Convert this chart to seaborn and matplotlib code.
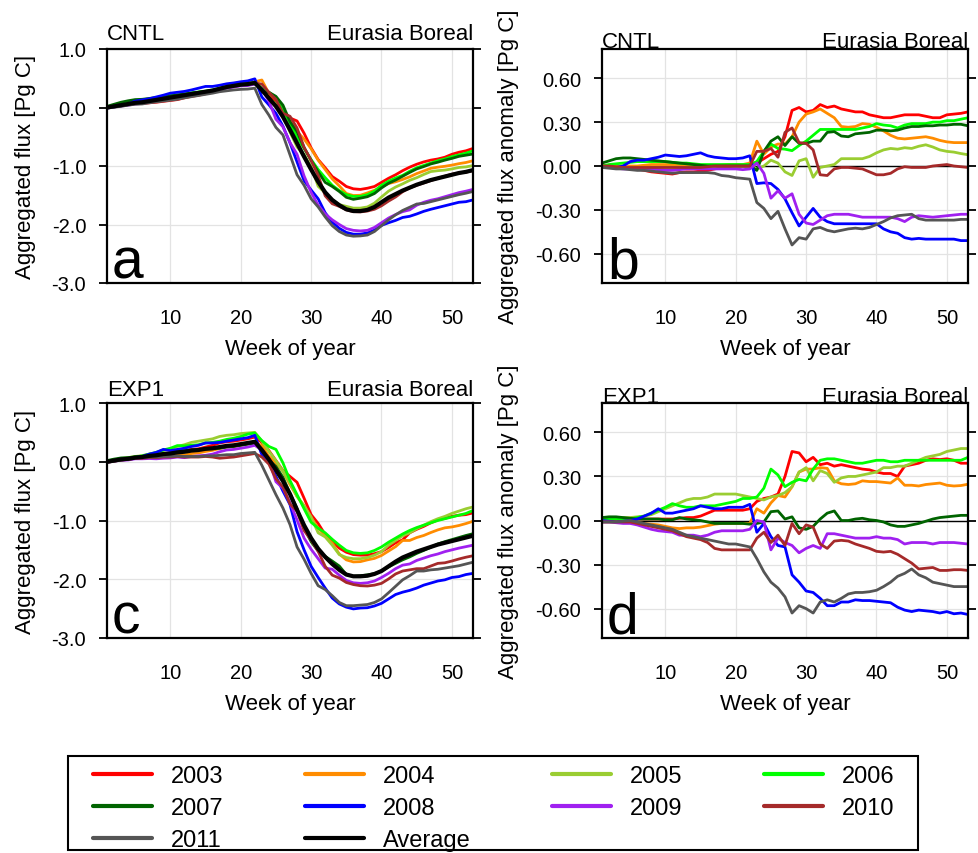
import numpy as np
import pandas as pd
import matplotlib
matplotlib.use("Agg")
import matplotlib.pyplot as plt
from matplotlib.lines import Line2D
from matplotlib.patches import Rectangle
from matplotlib import font_manager
import seaborn as sns

# ---------------- data ----------------
weeks = list(range(1, 54))
years = ["2003", "2004", "2005", "2006", "2007", "2008", "2009", "2010", "2011"]
colors = ["#ff0000", "#ff8c00", "#9acd32", "#00ff00", "#006400",
          "#0000ff", "#a020f0", "#a52a2a", "#555555"]

# CNTL average aggregated flux (black line, panel a)
avg_cntl = [0.00, 0.02, 0.04, 0.06, 0.08, 0.09, 0.11, 0.13, 0.15, 0.17, 0.19, 0.21, 0.23, 0.25,
            0.27, 0.29, 0.32, 0.35, 0.37, 0.39, 0.40, 0.42, 0.30, 0.16, 0.02, -0.16, -0.38, -0.61,
            -0.84, -1.06, -1.27, -1.45, -1.58, -1.67, -1.74, -1.77, -1.77, -1.75, -1.70, -1.62,
            -1.54, -1.48, -1.42, -1.37, -1.32, -1.28, -1.24, -1.21, -1.18, -1.15, -1.12, -1.10, -1.07]

# CNTL anomalies (panel b)
cntl_2003 = [0.00, -0.005, -0.01, -0.01, -0.015, -0.02, -0.03, -0.04, -0.045, -0.05, -0.055, -0.045, -0.04,
             -0.04, -0.035, -0.03, -0.02, -0.01, -0.005, 0.00, 0.00, 0.00, 0.02, 0.05, 0.08, 0.10, 0.20,
             0.38, 0.40, 0.37, 0.38, 0.42, 0.40, 0.41, 0.39, 0.38, 0.37, 0.37, 0.35, 0.34, 0.33, 0.33,
             0.34, 0.35, 0.35, 0.35, 0.34, 0.33, 0.33, 0.35, 0.355, 0.36, 0.37]
cntl_2004 = [0.00, 0.00, 0.00, 0.00, 0.00, 0.00, 0.005, 0.01, 0.01, 0.01, 0.01, 0.01, 0.01, 0.005, 0.00,
             0.00, 0.00, 0.005, 0.01, 0.01, 0.01, 0.02, 0.17, 0.08, 0.13, 0.15, 0.15, 0.20, 0.30, 0.355,
             0.37, 0.39, 0.36, 0.33, 0.27, 0.265, 0.27, 0.29, 0.285, 0.265, 0.24, 0.21, 0.19, 0.185,
             0.19, 0.195, 0.20, 0.19, 0.175, 0.165, 0.16, 0.16, 0.16]
cntl_2005 = [0.00, -0.005, -0.01, -0.01, -0.01, -0.01, -0.01, -0.01, -0.01, -0.01, -0.01, -0.01, -0.01,
             -0.005, 0.00, 0.00, 0.00, 0.00, 0.00, 0.00, 0.005, 0.01, -0.02, 0.00, 0.04, 0.02, -0.04,
             -0.065, 0.035, 0.05, -0.077, -0.01, 0.00, 0.01, 0.05, 0.05, 0.05, 0.05, 0.065, 0.09, 0.11,
             0.12, 0.115, 0.125, 0.12, 0.135, 0.145, 0.13, 0.11, 0.10, 0.095, 0.085, 0.077]
cntl_2006 = [0.00, 0.01, 0.015, 0.02, 0.025, 0.03, 0.03, 0.03, 0.03, 0.03, 0.025, 0.02, 0.02, 0.015, 0.01,
             0.01, 0.01, 0.01, 0.01, 0.01, 0.01, 0.01, 0.03, 0.10, 0.15, 0.12, 0.115, 0.105, 0.14, 0.17,
             0.21, 0.25, 0.25, 0.25, 0.25, 0.25, 0.25, 0.26, 0.27, 0.29, 0.28, 0.275, 0.26, 0.28, 0.29,
             0.29, 0.29, 0.30, 0.30, 0.31, 0.31, 0.32, 0.33]
cntl_2007 = [0.02, 0.035, 0.05, 0.055, 0.055, 0.05, 0.045, 0.04, 0.035, 0.03, 0.025, 0.02, 0.015, 0.01,
             0.005, 0.00, 0.00, 0.00, 0.00, 0.00, 0.00, 0.00, -0.03, 0.10, 0.17, 0.20, 0.14, 0.20, 0.155,
             0.155, 0.17, 0.17, 0.23, 0.235, 0.205, 0.20, 0.22, 0.225, 0.23, 0.245, 0.245, 0.24, 0.245,
             0.26, 0.27, 0.27, 0.275, 0.275, 0.28, 0.28, 0.285, 0.285, 0.275]
cntl_2008 = [-0.01, -0.01, -0.01, 0.00, 0.03, 0.04, 0.04, 0.05, 0.06, 0.075, 0.07, 0.065, 0.07, 0.08,
             0.09, 0.07, 0.06, 0.055, 0.05, 0.05, 0.055, 0.07, -0.12, -0.115, -0.12, -0.16, -0.225,
             -0.32, -0.41, -0.35, -0.29, -0.35, -0.38, -0.395, -0.395, -0.395, -0.395, -0.395, -0.395,
             -0.395, -0.43, -0.45, -0.46, -0.49, -0.50, -0.495, -0.50, -0.50, -0.50, -0.50, -0.50,
             -0.51, -0.51]
cntl_2009 = [-0.01, -0.01, -0.015, -0.02, -0.02, -0.02, -0.02, -0.02, -0.025, -0.03, -0.03, -0.025, -0.02,
             -0.02, -0.02, -0.02, -0.02, -0.02, -0.02, -0.02, -0.025, -0.02, 0.02, -0.05, -0.22, -0.17,
             -0.22, -0.19, -0.33, -0.39, -0.40, -0.37, -0.34, -0.33, -0.33, -0.33, -0.34, -0.35, -0.35,
             -0.35, -0.35, -0.35, -0.36, -0.38, -0.35, -0.34, -0.345, -0.35, -0.345, -0.34, -0.335,
             -0.33, -0.33]
cntl_2010 = [0.00, 0.00, -0.005, -0.01, -0.01, -0.01, -0.01, -0.01, -0.01, -0.01, -0.01, -0.01, -0.01,
             -0.01, -0.01, -0.005, 0.00, 0.00, 0.00, 0.00, 0.00, 0.00, 0.10, 0.10, 0.12, 0.06, 0.23,
             0.26, 0.16, 0.155, 0.11, -0.06, -0.065, -0.02, -0.01, -0.01, -0.015, -0.02, -0.04, -0.06,
             -0.06, -0.05, -0.02, -0.005, -0.01, -0.01, -0.01, 0.00, 0.005, 0.01, 0.00, -0.005, -0.01]
cntl_2011 = [-0.01, -0.015, -0.02, -0.02, -0.025, -0.03, -0.03, -0.035, -0.04, -0.045, -0.05, -0.045,
             -0.045, -0.045, -0.045, -0.045, -0.05, -0.065, -0.07, -0.08, -0.085, -0.09, -0.25, -0.29,
             -0.36, -0.31, -0.43, -0.54, -0.49, -0.50, -0.43, -0.42, -0.44, -0.45, -0.44, -0.43, -0.425,
             -0.43, -0.42, -0.40, -0.38, -0.355, -0.34, -0.335, -0.33, -0.36, -0.37, -0.37, -0.37,
             -0.37, -0.37, -0.365, -0.365]

# EXP1 average aggregated flux (black line, panel c)
avg_exp1 = [0.00, 0.02, 0.04, 0.05, 0.07, 0.08, 0.10, 0.11, 0.13, 0.14, 0.16, 0.17, 0.19, 0.20, 0.22,
            0.23, 0.25, 0.27, 0.28, 0.30, 0.32, 0.34, 0.20, 0.04, -0.14, -0.33, -0.55, -0.82, -1.08,
            -1.30, -1.48, -1.62, -1.74, -1.84, -1.92, -1.95, -1.95, -1.94, -1.91, -1.86, -1.78, -1.70,
            -1.63, -1.58, -1.53, -1.49, -1.45, -1.41, -1.38, -1.35, -1.32, -1.29, -1.26]

# EXP1 anomalies (panel d)
exp1_2003 = [0.00, 0.005, 0.01, 0.01, 0.01, 0.01, 0.01, 0.01, 0.01, 0.01, 0.01, 0.015, 0.02, 0.02, 0.03,
             0.05, 0.07, 0.07, 0.07, 0.07, 0.07, 0.08, 0.13, 0.15, 0.16, 0.18, 0.30, 0.47, 0.46, 0.40,
             0.43, 0.38, 0.39, 0.37, 0.38, 0.37, 0.36, 0.35, 0.345, 0.33, 0.32, 0.32, 0.30, 0.37, 0.38,
             0.39, 0.41, 0.42, 0.415, 0.42, 0.41, 0.39, 0.39]
exp1_2004 = [0.00, -0.005, -0.01, -0.01, -0.01, -0.015, -0.02, -0.025, -0.03, -0.04, -0.05, -0.055,
             -0.05, -0.05, -0.045, -0.035, -0.025, -0.02, -0.02, -0.02, -0.02, -0.02, 0.08, 0.05, 0.12,
             0.17, 0.16, 0.23, 0.33, 0.35, 0.35, 0.36, 0.355, 0.27, 0.25, 0.245, 0.25, 0.27, 0.265,
             0.265, 0.26, 0.255, 0.29, 0.24, 0.24, 0.235, 0.245, 0.25, 0.255, 0.24, 0.235, 0.238, 0.247]
exp1_2005 = [0.01, 0.01, 0.015, 0.02, 0.02, 0.025, 0.03, 0.04, 0.06, 0.08, 0.10, 0.12, 0.14, 0.15, 0.15,
             0.16, 0.18, 0.18, 0.18, 0.18, 0.17, 0.16, 0.15, 0.14, 0.16, 0.17, 0.19, 0.23, 0.33, 0.36,
             0.27, 0.34, 0.32, 0.26, 0.29, 0.30, 0.30, 0.31, 0.32, 0.33, 0.36, 0.36, 0.37, 0.37, 0.39,
             0.41, 0.43, 0.44, 0.45, 0.47, 0.48, 0.49, 0.49]
exp1_2006 = [0.01, 0.01, 0.01, 0.01, 0.01, 0.02, 0.03, 0.05, 0.07, 0.09, 0.115, 0.10, 0.09, 0.09, 0.10,
             0.10, 0.10, 0.11, 0.12, 0.13, 0.15, 0.15, 0.16, 0.22, 0.35, 0.31, 0.23, 0.26, 0.28, 0.27,
             0.35, 0.41, 0.42, 0.42, 0.41, 0.40, 0.39, 0.39, 0.40, 0.41, 0.41, 0.40, 0.40, 0.41, 0.41,
             0.41, 0.41, 0.41, 0.41, 0.41, 0.41, 0.41, 0.43]
exp1_2007 = [0.02, 0.025, 0.025, 0.02, 0.015, 0.01, 0.01, 0.01, 0.01, 0.005, 0.005, 0.02, 0.01, 0.005,
             0.00, -0.01, -0.02, -0.02, -0.02, -0.02, -0.02, -0.025, -0.02, -0.01, 0.06, 0.065, 0.01,
             0.025, -0.05, -0.06, -0.04, 0.01, 0.05, 0.065, 0.00, 0.00, 0.01, 0.015, 0.005, 0.00, -0.01,
             -0.03, -0.04, -0.04, -0.03, -0.02, -0.005, 0.01, 0.02, 0.025, 0.03, 0.035, 0.035]
exp1_2008 = [0.00, -0.005, -0.01, -0.005, 0.00, 0.01, 0.03, 0.05, 0.08, 0.05, 0.05, 0.06, 0.07, 0.08,
             0.10, 0.09, 0.08, 0.08, 0.09, 0.09, 0.09, 0.11, -0.08, -0.02, -0.11, -0.17, -0.18, -0.37,
             -0.42, -0.48, -0.49, -0.53, -0.58, -0.58, -0.555, -0.555, -0.54, -0.545, -0.545, -0.55,
             -0.555, -0.56, -0.59, -0.61, -0.62, -0.61, -0.615, -0.62, -0.63, -0.62, -0.635, -0.63, -0.64]
exp1_2009 = [-0.01, -0.01, -0.015, -0.02, -0.02, -0.03, -0.045, -0.06, -0.07, -0.075, -0.08, -0.10,
             -0.10, -0.10, -0.11, -0.10, -0.08, -0.07, -0.07, -0.07, -0.07, -0.06, 0.00, -0.01, -0.20,
             -0.12, -0.15, -0.17, -0.22, -0.19, -0.17, -0.19, -0.09, -0.09, -0.10, -0.11, -0.12, -0.12,
             -0.12, -0.11, -0.12, -0.12, -0.13, -0.16, -0.15, -0.15, -0.15, -0.16, -0.15, -0.15, -0.15,
             -0.155, -0.16]
exp1_2010 = [-0.01, -0.01, -0.01, -0.01, -0.01, -0.02, -0.03, -0.04, -0.05, -0.06, -0.07, -0.09, -0.11,
             -0.12, -0.13, -0.15, -0.19, -0.20, -0.20, -0.20, -0.20, -0.20, -0.12, -0.08, -0.15, -0.10,
             -0.17, -0.02, -0.09, -0.03, -0.045, -0.16, -0.19, -0.14, -0.135, -0.14, -0.16, -0.175,
             -0.19, -0.21, -0.215, -0.21, -0.23, -0.26, -0.29, -0.33, -0.325, -0.32, -0.34, -0.34,
             -0.335, -0.335, -0.34]
exp1_2011 = [-0.01, -0.01, -0.01, -0.005, 0.00, -0.01, -0.02, -0.03, -0.04, -0.05, -0.06, -0.08, -0.10,
             -0.11, -0.12, -0.13, -0.14, -0.15, -0.16, -0.16, -0.17, -0.18, -0.26, -0.35, -0.42, -0.46,
             -0.52, -0.63, -0.58, -0.60, -0.63, -0.555, -0.54, -0.555, -0.53, -0.50, -0.49, -0.49,
             -0.485, -0.475, -0.45, -0.42, -0.38, -0.36, -0.33, -0.37, -0.39, -0.42, -0.43, -0.44,
             -0.45, -0.45, -0.45]

cntl_anom = [cntl_2003, cntl_2004, cntl_2005, cntl_2006, cntl_2007,
             cntl_2008, cntl_2009, cntl_2010, cntl_2011]
exp1_anom = [exp1_2003, exp1_2004, exp1_2005, exp1_2006, exp1_2007,
             exp1_2008, exp1_2009, exp1_2010, exp1_2011]

flux_ticks = [1.0, 0.0, -1.0, -2.0, -3.0]
anom_ticks = [0.6, 0.3, 0.0, -0.3, -0.6]
week_ticks = [10, 20, 30, 40, 50]

# ---------------- style ----------------
sns.set_style("white")
plt.rcParams["font.family"] = ["Liberation Sans", "DejaVu Sans"]
plt.rcParams["axes.unicode_minus"] = False
for k in ["text.color", "axes.labelcolor", "xtick.color", "ytick.color"]:
    plt.rcParams[k] = "black"

names = {f.name for f in font_manager.fontManager.ttflist}
legend_family = "Liberation Sans Narrow" if "Liberation Sans Narrow" in names else "Liberation Sans"


def long_df(base, anoms, add_base):
    rows = []
    for y, a in zip(years, anoms):
        for w, b, v in zip(weeks, base, a):
            rows.append({"week": w, "value": (b + v) if add_base else v, "year": y})
    return pd.DataFrame(rows)


palette = dict(zip(years, colors))

fig = plt.figure(figsize=(9.79, 8.54), dpi=100)
W, H = 979.0, 854.0


def ax_at(x0, y0, x1, y1):
    return fig.add_axes([x0 / W, 1 - y1 / H, (x1 - x0) / W, (y1 - y0) / H])


ax_a = ax_at(107, 50, 473, 284)
ax_b = ax_at(602, 50, 968, 284)
ax_c = ax_at(107, 404, 473, 639)
ax_d = ax_at(602, 404, 968, 639)

panels = [
    (ax_a, "CNTL", "a", avg_cntl, cntl_anom, False, 10),
    (ax_b, "CNTL", "b", avg_cntl, cntl_anom, True, 2),
    (ax_c, "EXP1", "c", avg_exp1, exp1_anom, False, 8),
    (ax_d, "EXP1", "d", avg_exp1, exp1_anom, True, 1),
]

for ax, exp, letter, avg, anoms, is_anom, title_gap in panels:
    df = long_df(avg, anoms, add_base=not is_anom)
    ax.grid(True, color="#e3e3e3", lw=0.9)
    ax.set_axisbelow(True)
    if is_anom:
        ax.axhline(0, color="black", lw=1.0, zorder=1.5)
    sns.lineplot(data=df, x="week", y="value", hue="year", hue_order=years,
                 palette=palette, lw=2.0, legend=False, estimator=None, ax=ax, zorder=2)
    if not is_anom:
        sns.lineplot(x=weeks, y=avg, color="black", lw=3.0, ax=ax, zorder=3)
        ax.set_ylim(-3.0, 1.0)
        ax.set_yticks(flux_ticks)
        ax.set_yticklabels([f"{t:.1f}" for t in flux_ticks])
        ax.set_ylabel("Aggregated flux [Pg C]", fontsize=16)
        ax.yaxis.set_label_coords(-0.195, 0.5)
    else:
        ax.set_ylim(-0.8, 0.8)
        ax.set_yticks(anom_ticks)
        ax.set_yticklabels([f"{t:.2f}" for t in anom_ticks])
        ax.set_ylabel("Aggregated flux anomaly [Pg C]", fontsize=16)
        ax.yaxis.set_label_coords(-0.228, 0.5)
    ax.set_xlim(1, 53)
    ax.set_xticks(week_ticks)
    ax.set_xlabel("Week of year", fontsize=16)
    ax.xaxis.set_label_coords(0.5, -0.235)
    ax.tick_params(axis="y", direction="out", length=6, width=1.3, left=True, right=True,
                   labelsize=14.5, pad=9)
    ax.tick_params(axis="x", length=0, labelsize=14.5, pad=18)
    for s in ax.spines.values():
        s.set_visible(True)
        s.set_linewidth(1.6)
        s.set_color("black")
    hgt = ax.get_position().height * H
    ax.text(0.0, 1 + title_gap / hgt, exp, transform=ax.transAxes, ha="left",
            va="baseline", fontsize=16)
    ax.text(1.0, 1 + title_gap / hgt, "Eurasia Boreal", transform=ax.transAxes, ha="right",
            va="baseline", fontsize=16)
    ax.text(0.014, 0.022, letter, transform=ax.transAxes, ha="left", va="baseline",
            fontsize=41)

# ---------------- legend ----------------
handles = {y: Line2D([], [], color=c, lw=3) for y, c in zip(years, colors)}
handles["Average"] = Line2D([], [], color="black", lw=3)
order = ["2003", "2007", "2011", "2004", "2008", "Average", "2005", "2009", "2006", "2010"]
fig.add_artist(Rectangle((68 / W, 1 - 851 / H), (918 - 68) / W, (851 - 757) / H,
                         transform=fig.transFigure, fill=False, ec="black", lw=1.5))
leg = fig.legend([handles[k] for k in order], order, loc="upper left",
                 bbox_to_anchor=(93 / W, 1 - 766 / H, (895 - 93) / W, 0.0),
                 mode="expand", ncol=4, frameon=False, borderpad=0, borderaxespad=0,
                 handlelength=2.5, handletextpad=0.8, labelspacing=0.42,
                 prop={"family": legend_family, "size": 17})

fig.savefig("out.png", dpi=100)
